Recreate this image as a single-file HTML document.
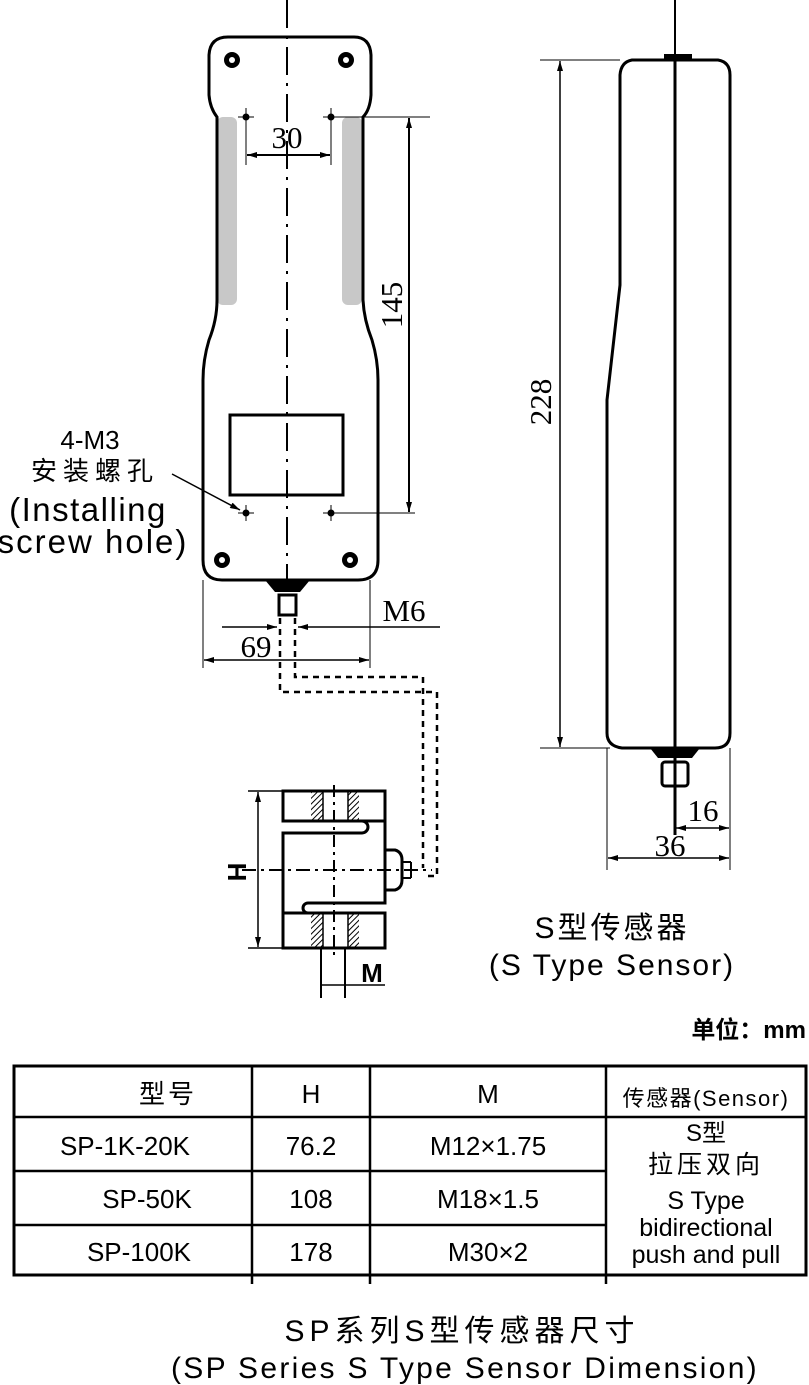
<!DOCTYPE html>
<html><head><meta charset="utf-8"><style>
html,body{margin:0;padding:0;background:#fff}
svg{display:block}
.s{font-family:"Liberation Serif",serif;font-size:31px;fill:#000}
.a{font-family:"Liberation Sans","Noto Sans CJK SC",sans-serif;fill:#000}
</style></head><body>
<svg width="809" height="1385" viewBox="0 0 809 1385" xmlns="http://www.w3.org/2000/svg">
<defs>
<marker id="ar" viewBox="0 0 10 6" refX="10" refY="3" markerWidth="14" markerHeight="6" markerUnits="userSpaceOnUse" orient="auto-start-reverse"><path d="M0,0 L10,3 L0,6 Z" fill="#000"/></marker>
<pattern id="h" width="4" height="4" patternUnits="userSpaceOnUse" patternTransform="rotate(45)"><rect width="4" height="4" fill="#fff"/><line x1="0" y1="0" x2="0" y2="4" stroke="#000" stroke-width="2"/></pattern>
</defs>
<g fill="none" stroke="#000">
<rect x="217" y="117" width="20" height="188" rx="6" fill="#c8c8c8" stroke="none"/>
<rect x="342" y="117" width="20" height="188" rx="6" fill="#c8c8c8" stroke="none"/>
<path d="M228,37 L354,37 Q370,37 371,55 L371,95 Q370,110 363,117 L363,300 Q364,320 372,340 Q378,360 378,380 L378,560 Q378,580 358,580 L222,580 Q203,580 203,560 L203,380 Q203,360 209,340 Q217,320 217,300 L217,117 Q210,108 209,95 L209,55 Q210,37 228,37 Z" stroke-width="3"/>
<g fill="#000" stroke="none">
<circle cx="232" cy="60" r="8"/><circle cx="346" cy="60" r="8"/><circle cx="222" cy="560" r="8"/><circle cx="350" cy="560" r="8"/>
</g>
<g fill="#fff" stroke="none">
<circle cx="232" cy="60" r="3"/><circle cx="346" cy="60" r="3"/><circle cx="222" cy="560" r="3"/><circle cx="350" cy="560" r="3"/>
</g>
<rect x="230" y="415" width="113" height="80" stroke-width="3"/>
<line x1="287" y1="0" x2="287" y2="600" stroke-width="2" stroke-dasharray="28,8,3,8"/>
<g fill="#000" stroke="none"><circle cx="246" cy="117" r="3.5"/><circle cx="331" cy="117" r="3.5"/><circle cx="246" cy="513" r="3.5"/><circle cx="331" cy="513" r="3.5"/></g>
<g stroke-width="1">
<line x1="238" y1="117" x2="254" y2="117"/><line x1="323" y1="117" x2="430" y2="117"/>
<line x1="238" y1="513" x2="254" y2="513"/><line x1="323" y1="513" x2="415" y2="513"/>
<line x1="246" y1="108" x2="246" y2="165"/><line x1="331" y1="108" x2="331" y2="165"/>
<line x1="246" y1="505" x2="246" y2="521"/><line x1="331" y1="505" x2="331" y2="521"/>
</g>
<line x1="247" y1="155" x2="330" y2="155" stroke-width="2" marker-start="url(#ar)" marker-end="url(#ar)"/>
<line x1="409" y1="118" x2="409" y2="512" stroke-width="2" marker-start="url(#ar)" marker-end="url(#ar)"/>
<path d="M265,580 L310,580 L300,592 L275,592 Z" fill="#000" stroke="none"/>
<rect x="279" y="595" width="17" height="20" stroke-width="3"/>
<line x1="222" y1="627" x2="277" y2="627" stroke-width="1.5" marker-end="url(#ar)"/>
<line x1="440" y1="627" x2="298" y2="627" stroke-width="1.5" marker-end="url(#ar)"/>
<line x1="203" y1="580" x2="203" y2="668" stroke-width="1"/><line x1="370" y1="580" x2="370" y2="668" stroke-width="1"/>
<line x1="204" y1="660" x2="369" y2="660" stroke-width="1.5" marker-start="url(#ar)" marker-end="url(#ar)"/>
<path d="M295,618 L295,677 L423,677 L423,868" stroke-width="2.5" stroke-dasharray="6,5"/>
<path d="M280,618 L280,692 L437,692 L437,876 L425,876" stroke-width="2.5" stroke-dasharray="6,5"/>
<line x1="172" y1="474" x2="240" y2="510" stroke-width="1.5" marker-end="url(#ar)"/>
<rect x="311" y="792" width="12" height="28" fill="url(#h)" stroke="none"/>
<rect x="348" y="792" width="11" height="28" fill="url(#h)" stroke="none"/>
<rect x="311" y="914" width="12" height="33" fill="url(#h)" stroke="none"/>
<rect x="348" y="914" width="11" height="33" fill="url(#h)" stroke="none"/>
<path d="M283,821 L283,791 L385,791 L385,903 L308,903 A5,5 0 0 0 308,913 L385,913 L385,948 L283,948 L283,833 L362,833 A6,6 0 0 0 362,821 Z" stroke-width="3"/>
<line x1="283" y1="821" x2="385" y2="821" stroke-width="3"/>
<line x1="283" y1="913" x2="310" y2="913" stroke-width="3"/>
<g stroke-width="1.5"><line x1="323" y1="791" x2="323" y2="821"/><line x1="348" y1="791" x2="348" y2="821"/><line x1="323" y1="913" x2="323" y2="948"/><line x1="348" y1="913" x2="348" y2="948"/></g>
<line x1="334" y1="785" x2="334" y2="960" stroke-width="2" stroke-dasharray="12,5,3,5"/>
<line x1="242" y1="870" x2="432" y2="870" stroke-width="2" stroke-dasharray="14,5,3,5"/>
<path d="M385,850 L395,850 Q402,852 402,860 L402,880 Q402,888 395,890 L385,890" stroke-width="3"/>
<line x1="402" y1="862" x2="411" y2="862" stroke-width="2"/><line x1="402" y1="878" x2="411" y2="878" stroke-width="2"/><line x1="411" y1="862" x2="411" y2="878" stroke-width="2"/>
<line x1="248" y1="791" x2="283" y2="791" stroke-width="1.5"/><line x1="248" y1="948" x2="283" y2="948" stroke-width="1.5"/>
<line x1="258" y1="792" x2="258" y2="947" stroke-width="1.5" marker-start="url(#ar)" marker-end="url(#ar)"/>
<line x1="321" y1="948" x2="321" y2="998" stroke-width="2"/><line x1="345" y1="948" x2="345" y2="998" stroke-width="2"/>
<line x1="322" y1="985" x2="385" y2="985" stroke-width="1.5"/>
<path d="M632,60 L718,60 Q730,62 730,75 L730,733 Q730,748 715,748 L622,748 Q607,746 607,733 L607,400 L620,285 L620,75 Q621,62 632,60 Z" stroke-width="3"/>
<rect x="664" y="54" width="28" height="7" fill="#000" stroke="none"/>
<line x1="675" y1="0" x2="675" y2="54" stroke-width="2"/>
<line x1="675" y1="60" x2="675" y2="835" stroke-width="3"/>
<path d="M650,748 L700,748 L692,758 L658,758 Z" fill="#000" stroke="none"/>
<rect x="662" y="762" width="26" height="24" rx="3" stroke-width="3"/>
<line x1="540" y1="60" x2="620" y2="60" stroke-width="1"/><line x1="540" y1="748" x2="610" y2="748" stroke-width="1"/>
<line x1="560" y1="61" x2="560" y2="747" stroke-width="1.5" marker-start="url(#ar)" marker-end="url(#ar)"/>
<line x1="607" y1="748" x2="607" y2="870" stroke-width="1"/><line x1="730" y1="748" x2="730" y2="870" stroke-width="1"/>
<line x1="676" y1="828" x2="729" y2="828" stroke-width="1.5" marker-start="url(#ar)" marker-end="url(#ar)"/>
<line x1="608" y1="858" x2="729" y2="858" stroke-width="1.5" marker-start="url(#ar)" marker-end="url(#ar)"/>
<rect x="14" y="1066" width="792" height="209" stroke-width="3"/>
<g stroke-width="2.5">
<line x1="252" y1="1066" x2="252" y2="1284"/><line x1="370" y1="1066" x2="370" y2="1284"/><line x1="606" y1="1066" x2="606" y2="1284"/>
<line x1="14" y1="1117" x2="606" y2="1117"/><line x1="14" y1="1171" x2="606" y2="1171"/><line x1="14" y1="1225" x2="606" y2="1225"/>
<line x1="606" y1="1117" x2="806" y2="1117"/>
</g>
</g>
<text class="s" x="287" y="148" text-anchor="middle">30</text>
<text class="s" transform="translate(402,305) rotate(-90)" text-anchor="middle">145</text>
<text class="s" x="404" y="621" text-anchor="middle">M6</text>
<text class="s" x="256" y="657" text-anchor="middle">69</text>
<text class="s" transform="translate(551,402) rotate(-90)" text-anchor="middle">228</text>
<text class="s" x="703" y="821" text-anchor="middle">16</text>
<text class="s" x="670" y="856" text-anchor="middle">36</text>
<text class="a" transform="translate(246,872) rotate(-90)" text-anchor="middle" font-size="26" font-weight="bold">H</text>
<text class="a" x="372" y="982" text-anchor="middle" font-size="26" font-weight="bold">M</text>
<text class="a" x="90" y="449" text-anchor="middle" font-size="26">4-M3</text>
<text class="a" x="95" y="480" text-anchor="middle" font-size="26" letter-spacing="6">安装螺孔</text>
<text class="a" x="88" y="521" text-anchor="middle" font-size="33" letter-spacing="1.5">(Installing</text>
<text class="a" x="93" y="553" text-anchor="middle" font-size="33" letter-spacing="2">screw hole)</text>
<text class="a" x="612" y="938" text-anchor="middle" font-size="30" letter-spacing="3">S型传感器</text>
<text class="a" x="612" y="975" text-anchor="middle" font-size="30" letter-spacing="2">(S Type Sensor)</text>
<text class="a" x="806" y="1038" text-anchor="end" font-size="24" font-weight="bold">单位：mm</text>
<g class="a" font-size="26" text-anchor="middle">
<text x="168" y="1103" letter-spacing="3">型号</text><text x="311" y="1103">H</text><text x="488" y="1103">M</text>
<text x="706" y="1106" font-size="22" letter-spacing="1.5">传感器(Sensor)</text>
<text x="125" y="1155">SP-1K-20K</text><text x="311" y="1155">76.2</text><text x="488" y="1155">M12×1.75</text>
<text x="147" y="1208">SP-50K</text><text x="311" y="1208">108</text><text x="488" y="1208">M18×1.5</text>
<text x="139" y="1261">SP-100K</text><text x="311" y="1261">178</text><text x="488" y="1261">M30×2</text>
<text x="706" y="1141" font-size="24">S型</text><text x="706" y="1173" font-size="25" letter-spacing="4">拉压双向</text>
<text x="706" y="1209" font-size="25">S Type</text><text x="706" y="1236" font-size="25">bidirectional</text><text x="706" y="1263" font-size="25">push and pull</text>
</g>
<text class="a" x="462" y="1341" text-anchor="middle" font-size="30" letter-spacing="5">SP系列S型传感器尺寸</text>
<text class="a" x="465" y="1378" text-anchor="middle" font-size="30" letter-spacing="2.3">(SP Series S Type Sensor Dimension)</text>
</svg>
</body></html>
